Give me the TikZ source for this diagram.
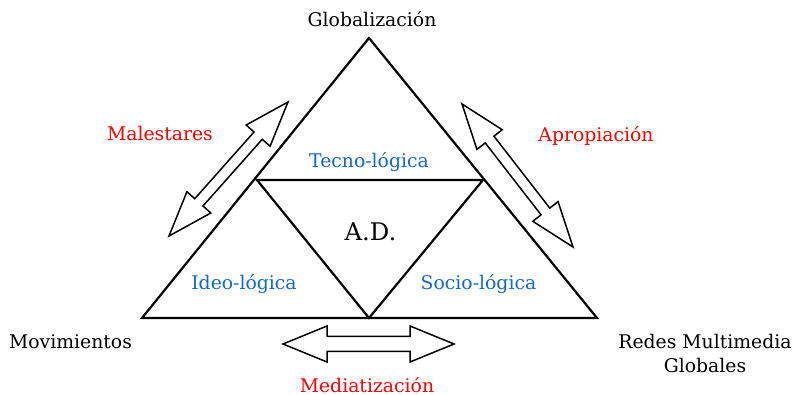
\documentclass[tikz,border=0pt]{standalone}
\usepackage{fontspec}
\setmainfont{DejaVu Serif}
\usetikzlibrary{calc}
\definecolor{lblred}{RGB}{255,0,0}
\definecolor{lblblue}{RGB}{20,104,204}
\tikzset{
  tri/.style={draw=black, line width=2.2pt, line join=miter},
  arrowshape/.style={draw=black, fill=white, line width=1.5pt, line join=miter},
  lbl/.style={anchor=base, inner sep=0pt, font=\fontsize{18.8}{22}\selectfont},
  redlbl/.style={lbl, text=lblred},
  bluelbl/.style={lbl, text=lblblue},
}
\newcommand\dblarrowshape[5]{%
  \draw[arrowshape] (#1)
    -- ($(#1)!#3!(#2)!#4!90:(#2)$)
    -- ($(#1)!#3!(#2)!#5!90:(#2)$)
    -- ($(#2)!#3!(#1)!#5!-90:(#1)$)
    -- ($(#2)!#3!(#1)!#4!-90:(#1)$)
    -- (#2)
    -- ($(#2)!#3!(#1)!#4!90:(#1)$)
    -- ($(#2)!#3!(#1)!#5!90:(#1)$)
    -- ($(#1)!#3!(#2)!#5!-90:(#2)$)
    -- ($(#1)!#3!(#2)!#4!-90:(#2)$)
    -- cycle;}
\begin{document}
\begin{tikzpicture}[x=1pt,y=-1pt]
\useasboundingbox (0,0) rectangle (793,395);
% triangle
\coordinate (top) at (369,38);
\coordinate (bl) at (142,318);
\coordinate (br) at (597,318);
\coordinate (ml) at (257,180);
\coordinate (mr) at (483,180);
\coordinate (mb) at (369,318);
\draw[tri] (top) -- (br) -- (bl) -- cycle;
\draw[tri] (ml) -- (mr) -- (mb) -- cycle;
% arrows
\coordinate (m1) at (288,102);
\coordinate (m2) at (169,236);
\coordinate (a1) at (462,104);
\coordinate (a2) at (573,247);
\coordinate (d1) at (283,344);
\coordinate (d2) at (454,344);
\dblarrowshape{m1}{m2}{45pt}{16pt}{5.5pt}
\dblarrowshape{a1}{a2}{45pt}{16pt}{5.5pt}
\dblarrowshape{d1}{d2}{44pt}{18pt}{7.5pt}
% labels
\node[lbl] (glob) at (372,27) {Globalización};
\node[redlbl] (mal) at (160,141) {Malestares};
\node[redlbl] (apr) at (596,142) {Apropiación};
\node[bluelbl] (tec) at (369,168) {Tecno-lógica};
\node[lbl, font=\fontsize{24.3}{28}\selectfont] (ad) at (370.5,241) {A.D.};
\node[bluelbl] (ideo) at (244,290) {Ideo-lógica};
\node[bluelbl] (socio) at (478.5,290) {Socio-lógica};
\node[lbl] (mov) at (70.5,349) {Movimientos};
\node[lbl] (redes) at (705,349) {Redes Multimedia};
\node[lbl] (globales) at (705,373) {Globales};
\node[redlbl] (med) at (367,392) {Mediatización};
\end{tikzpicture}
\end{document}
